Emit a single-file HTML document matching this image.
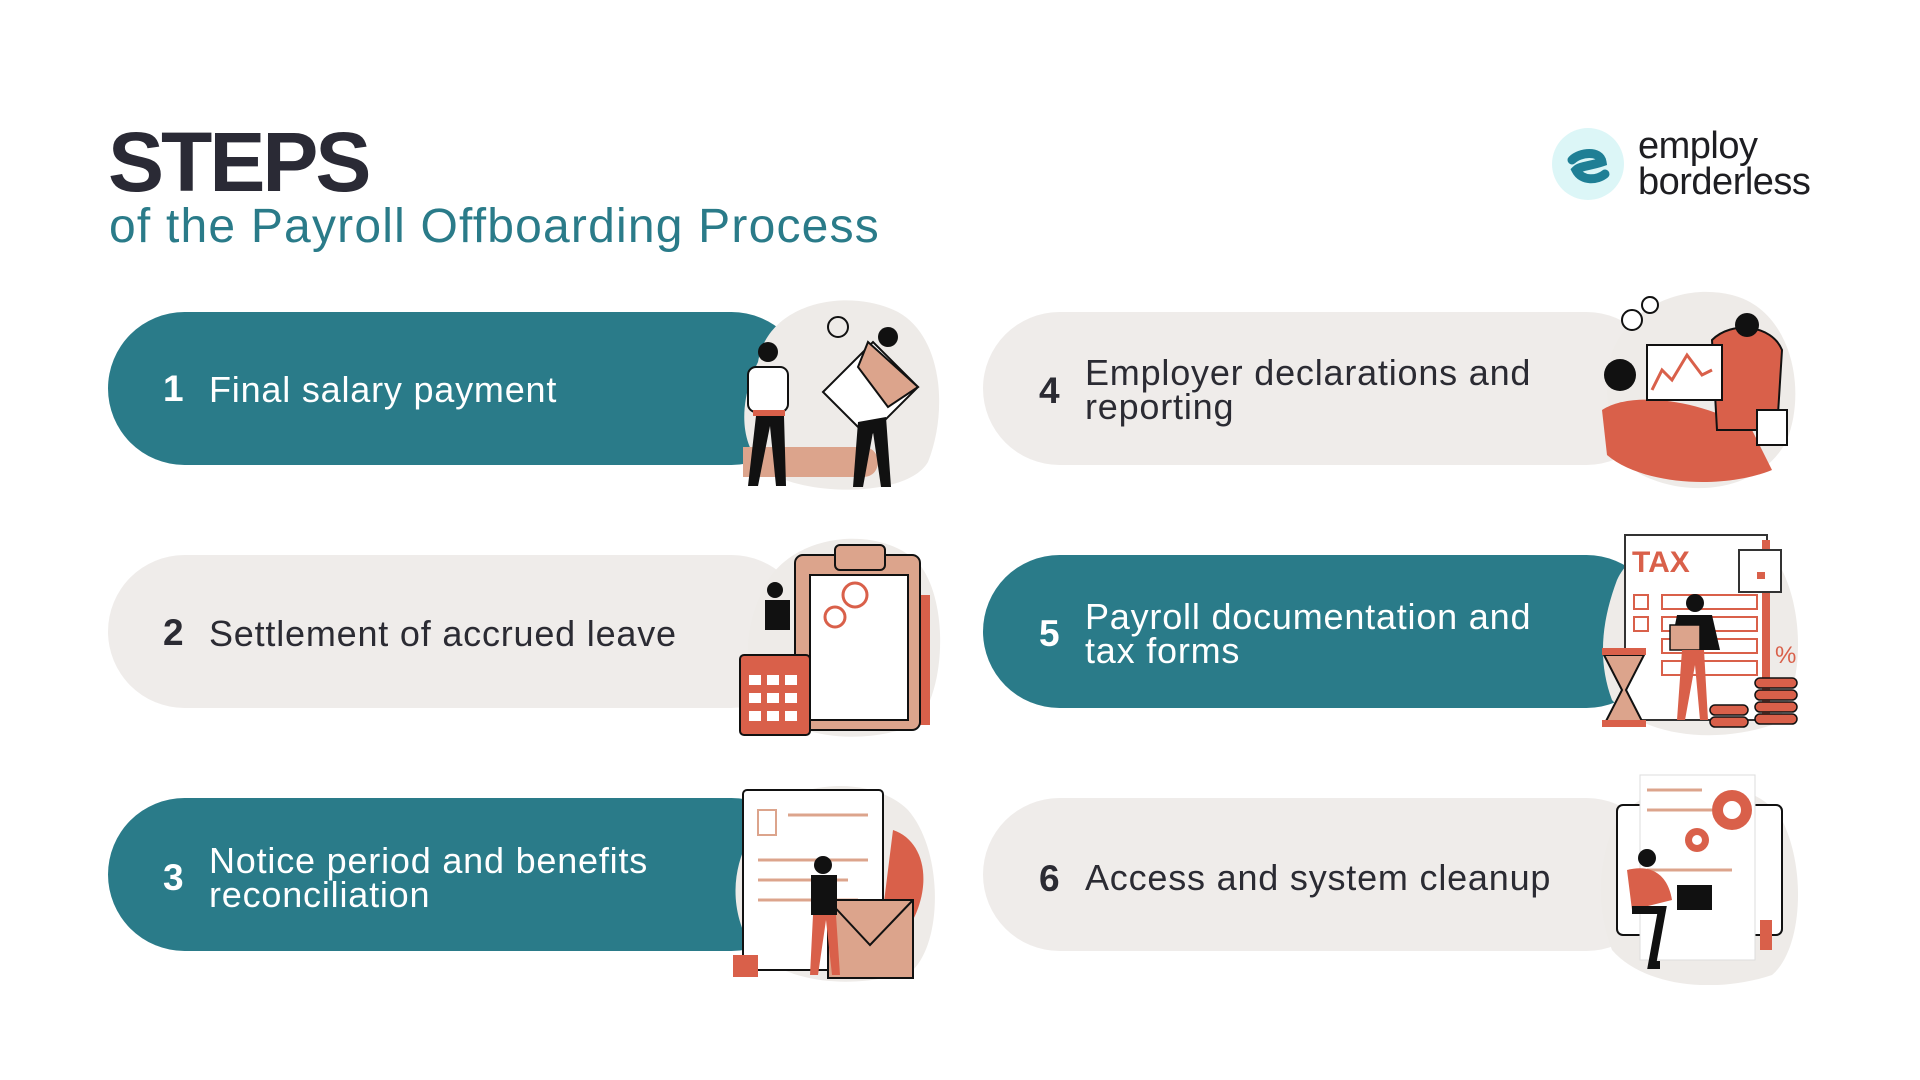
<!DOCTYPE html>
<html><head><meta charset="utf-8"><style>
*{margin:0;padding:0;box-sizing:border-box}
body{width:1920px;height:1080px;background:#fff;position:relative;overflow:hidden;font-family:"Liberation Sans",sans-serif}
.t{position:absolute}
.pill{position:absolute;height:153px;border-radius:77px}
.teal{background:#2a7b89;color:#fff}
.gray{background:#efecea;color:#2b2b33}
.num{position:absolute;font-size:37px;font-weight:bold}
.lab{position:absolute;font-size:36px;line-height:34px;letter-spacing:0.8px}
svg{position:absolute}
</style></head><body>
<div class="t" style="left:108px;top:114px;font-size:84px;font-weight:bold;color:#2a2a35;letter-spacing:-3px">STEPS</div>
<div class="t" style="left:109px;top:199px;font-size:48px;color:#2a7b89;letter-spacing:1.2px">of the Payroll Offboarding Process</div>

<svg style="left:1550px;top:126px" width="76" height="76"><circle cx="38" cy="38" r="36" fill="#dcf6f7"/><path d="M22 34 C30 26 50 24 52 36 C40 40 30 40 26 44 C32 56 48 54 55 48" stroke="#1f7f95" stroke-width="9" fill="none" stroke-linecap="round"/></svg>
<div class="t" style="left:1638px;top:128px;font-size:38px;line-height:36px;color:#1e1e22;letter-spacing:-0.5px">employ<br>borderless</div>

<!-- pills -->
<div class="pill teal" style="left:108px;top:312px;width:700px"></div>
<div class="pill gray" style="left:108px;top:555px;width:700px"></div>
<div class="pill teal" style="left:108px;top:798px;width:700px"></div>
<div class="pill gray" style="left:983px;top:312px;width:680px"></div>
<div class="pill teal" style="left:983px;top:555px;width:680px"></div>
<div class="pill gray" style="left:983px;top:798px;width:680px"></div>

<div class="num" style="left:163px;top:368px;color:#fff">1</div>
<div class="lab" style="left:209px;top:373px;color:#fff">Final salary payment</div>
<div class="num" style="left:163px;top:612px;color:#2b2b33">2</div>
<div class="lab" style="left:209px;top:617px;color:#2b2b33">Settlement of accrued leave</div>
<div class="num" style="left:163px;top:857px;color:#fff">3</div>
<div class="lab" style="left:209px;top:844px;color:#fff">Notice period and benefits<br>reconciliation</div>
<div class="num" style="left:1039px;top:370px;color:#2b2b33">4</div>
<div class="lab" style="left:1085px;top:356px;color:#2b2b33">Employer declarations and<br>reporting</div>
<div class="num" style="left:1039px;top:613px;color:#fff">5</div>
<div class="lab" style="left:1085px;top:600px;color:#fff">Payroll documentation and<br>tax forms</div>
<div class="num" style="left:1039px;top:858px;color:#2b2b33">6</div>
<div class="lab" style="left:1085px;top:861px;color:#2b2b33">Access and system cleanup</div>

<!-- illus 1 -->
<svg style="left:728px;top:282px" width="220" height="215"><path d="M30 80 C40 20 120 5 170 30 C215 55 220 130 200 180 C180 215 80 215 40 190 C5 160 15 110 30 80Z" fill="#eeebe8"/><path d="M15 165 h120 c20 0 20 30 0 30 h-120z" fill="#dca48c"/><rect x="20" y="85" width="40" height="45" rx="8" fill="#fff" stroke="#111" stroke-width="2"/><circle cx="40" cy="70" r="10" fill="#111"/><rect x="25" y="128" width="32" height="6" fill="#d9604a"/><path d="M28 134 l-8 70 h10 l12-60 l6 60 h10 l-2-70z" fill="#111"/><path d="M95 110 l50-50 l45 45 l-50 50z" fill="#fff" stroke="#111" stroke-width="2"/><path d="M140 60 l50 45 l-30 20 l-30-40z" fill="#dca48c" stroke="#111" stroke-width="2"/><circle cx="160" cy="55" r="10" fill="#111"/><path d="M130 140 l-5 65 h10 l10-55 l8 55 h10 l-5-70z" fill="#111"/><circle cx="110" cy="45" r="10" fill="none" stroke="#111" stroke-width="2"/></svg>
<!-- illus 2 -->
<svg style="left:735px;top:525px" width="215" height="215"><path d="M30 60 C60 5 150 0 185 40 C215 80 210 170 180 200 C130 220 60 215 30 180 C5 140 10 100 30 60Z" fill="#eeebe8"/><rect x="155" y="70" width="40" height="130" fill="#d9604a"/><rect x="60" y="30" width="125" height="175" rx="8" fill="#dca48c" stroke="#111" stroke-width="2"/><rect x="75" y="50" width="98" height="145" fill="#fff" stroke="#111" stroke-width="2"/><rect x="100" y="20" width="50" height="25" rx="5" fill="#dca48c" stroke="#111" stroke-width="2"/><circle cx="120" cy="70" r="12" fill="#fff" stroke="#d9604a" stroke-width="3"/><circle cx="100" cy="92" r="10" fill="#fff" stroke="#d9604a" stroke-width="3"/><rect x="5" y="130" width="70" height="80" rx="4" fill="#d9604a" stroke="#111" stroke-width="2"/><g fill="#fff"><rect x="14" y="150" width="12" height="10"/><rect x="32" y="150" width="12" height="10"/><rect x="50" y="150" width="12" height="10"/><rect x="14" y="168" width="12" height="10"/><rect x="32" y="168" width="12" height="10"/><rect x="50" y="168" width="12" height="10"/><rect x="14" y="186" width="12" height="10"/><rect x="32" y="186" width="12" height="10"/><rect x="50" y="186" width="12" height="10"/></g><circle cx="40" cy="65" r="8" fill="#111"/><rect x="30" y="75" width="25" height="30" fill="#111"/></svg>
<!-- illus 3 -->
<svg style="left:728px;top:770px" width="220" height="215"><path d="M20 70 C40 10 140 0 180 40 C215 80 215 170 185 200 C130 220 60 215 25 180 C0 140 5 100 20 70Z" fill="#eeebe8"/><path d="M165 60 c30 10 40 50 20 90 l-30-10z" fill="#d9604a"/><rect x="15" y="20" width="140" height="180" rx="4" fill="#fff" stroke="#111" stroke-width="2"/><rect x="30" y="40" width="18" height="25" fill="none" stroke="#dca48c" stroke-width="2"/><g stroke="#dca48c" stroke-width="3"><line x1="60" y1="45" x2="140" y2="45"/><line x1="30" y1="90" x2="140" y2="90"/><line x1="30" y1="110" x2="120" y2="110"/><line x1="30" y1="130" x2="130" y2="130"/></g><path d="M100 130 h85 v78 h-85z" fill="#dca48c" stroke="#111" stroke-width="2"/><path d="M100 130 l42 45 l43-45" fill="none" stroke="#111" stroke-width="2"/><circle cx="95" cy="95" r="9" fill="#111"/><rect x="83" y="105" width="26" height="40" fill="#111"/><path d="M85 145 l-3 60 h8 l8-55 l6 55 h8 l-4-60z" fill="#d9604a"/><rect x="5" y="185" width="25" height="22" fill="#d9604a"/></svg>
<!-- illus 4 -->
<svg style="left:1592px;top:280px" width="215" height="215"><path d="M15 110 C10 40 80 0 140 15 C200 30 215 110 195 160 C170 210 100 220 50 195 C20 175 17 145 15 110Z" fill="#eeebe8"/><path d="M10 130 c30 -20 100 -10 150 20 l20 40 c-50 20 -130 15 -165 -15z" fill="#d9604a"/><path d="M120 60 c20-20 60-15 70 10 l-5 80 h-60z" fill="#d9604a" stroke="#111" stroke-width="2"/><circle cx="155" cy="45" r="12" fill="#111"/><rect x="55" y="65" width="75" height="55" fill="#fff" stroke="#111" stroke-width="2"/><path d="M60 110 l10-20 l10 10 l15-25 l15 20 l10-5" stroke="#d9604a" stroke-width="3" fill="none"/><circle cx="28" cy="95" r="16" fill="#111"/><circle cx="40" cy="40" r="10" fill="#fff" stroke="#111" stroke-width="2"/><circle cx="58" cy="25" r="8" fill="#fff" stroke="#111" stroke-width="2"/><rect x="165" y="130" width="30" height="35" fill="#fff" stroke="#111" stroke-width="2"/></svg>
<!-- illus 5 -->
<svg style="left:1592px;top:520px" width="215" height="220"><path d="M25 60 C50 5 160 5 190 50 C215 100 210 180 180 205 C120 225 50 215 20 180 C5 140 10 100 25 60Z" fill="#eeebe8"/><rect x="33" y="15" width="142" height="185" fill="#fff" stroke="#333" stroke-width="2"/><rect x="170" y="20" width="8" height="180" fill="#d9604a"/><text x="40" y="52" font-family="Liberation Sans,sans-serif" font-weight="bold" font-size="30" fill="#d9604a">TAX</text><rect x="147" y="30" width="42" height="42" fill="#fff" stroke="#333" stroke-width="2"/><rect x="165" y="52" width="8" height="7" fill="#d9604a"/><g fill="none" stroke="#d9604a" stroke-width="2"><rect x="42" y="75" width="14" height="14"/><rect x="42" y="97" width="14" height="14"/><rect x="70" y="75" width="95" height="14"/><rect x="70" y="97" width="95" height="14"/><rect x="70" y="119" width="95" height="14"/><rect x="70" y="141" width="95" height="14"/></g><text x="183" y="143" font-family="Liberation Sans,sans-serif" font-size="24" fill="#d9604a">%</text><path d="M12 135 h40 l-18 35 l18 35 h-40 l18-35z" fill="#dca48c" stroke="#111" stroke-width="2"/><rect x="10" y="128" width="44" height="7" fill="#d9604a"/><rect x="10" y="200" width="44" height="7" fill="#d9604a"/><circle cx="103" cy="83" r="9" fill="#111"/><path d="M85 95 h35 l8 35 h-50z" fill="#111"/><rect x="78" y="105" width="30" height="25" fill="#dca48c" stroke="#111" stroke-width="1.5"/><path d="M90 130 l-5 70 h8 l10-55 l5 55 h8 l-4-70z" fill="#d9604a"/><g fill="#d9604a" stroke="#111" stroke-width="1.5"><rect x="163" y="170" width="42" height="10" rx="5"/><rect x="163" y="182" width="42" height="10" rx="5"/><rect x="163" y="194" width="42" height="10" rx="5"/><rect x="163" y="158" width="42" height="10" rx="5"/><rect x="118" y="185" width="38" height="10" rx="5"/><rect x="118" y="197" width="38" height="10" rx="5"/></g></svg>
<!-- illus 6 -->
<svg style="left:1592px;top:770px" width="215" height="215"><path d="M20 60 C50 0 160 0 190 50 C215 100 210 180 180 205 C120 225 50 215 20 180 C5 140 5 100 20 60Z" fill="#eeebe8"/><rect x="25" y="35" width="165" height="130" rx="6" fill="#fff" stroke="#111" stroke-width="2"/><rect x="48" y="5" width="115" height="185" fill="#fff" stroke="#ddd"/><g stroke="#dca48c" stroke-width="3"><line x1="55" y1="20" x2="110" y2="20"/><line x1="55" y1="40" x2="120" y2="40"/><line x1="55" y1="100" x2="140" y2="100"/></g><circle cx="140" cy="40" r="20" fill="#d9604a"/><circle cx="140" cy="40" r="9" fill="#fff"/><circle cx="105" cy="70" r="12" fill="#d9604a"/><circle cx="105" cy="70" r="5" fill="#fff"/><circle cx="55" cy="88" r="9" fill="#111"/><path d="M35 100 c20-5 40 0 45 30 l-40 10z" fill="#d9604a"/><path d="M40 140 l30 0 l-10 55 h8" stroke="#111" stroke-width="8" fill="none"/><rect x="85" y="115" width="35" height="25" fill="#111"/><rect x="168" y="150" width="12" height="30" fill="#d9604a"/></svg>
</body></html>
